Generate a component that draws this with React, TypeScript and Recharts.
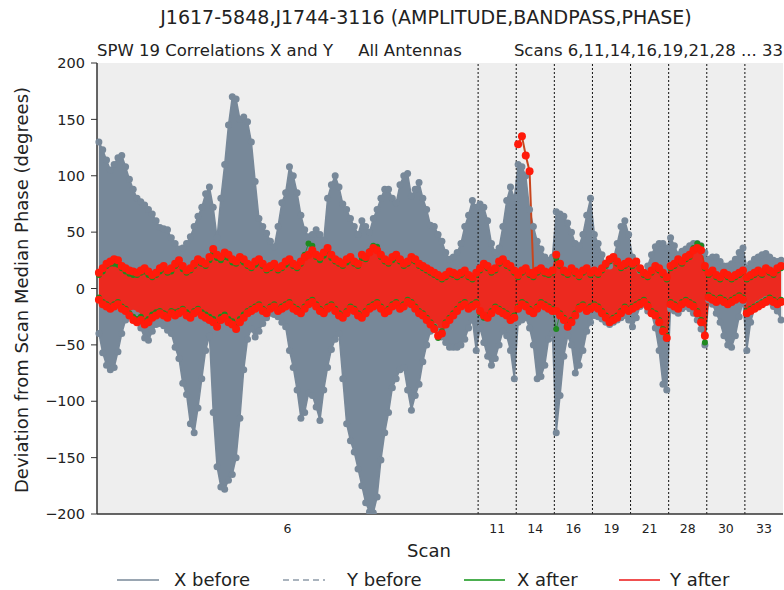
import React from 'react'
import {
  ComposedChart,
  Area,
  Line,
  XAxis,
  YAxis,
  CartesianGrid,
  ReferenceLine,
} from 'recharts'

const scans = ['6', '11', '14', '16', '19', '21', '28', '30', '33']
const scanSamples = [100, 10, 10, 10, 10, 10, 10, 10, 10]

// grey envelope of the "before" phases (all antennas, X and Y)
const beforeHi = [
  130, 123, 114, 105, 110, 116, 118, 108, 97, 88, 80, 77, 74, 70, 66, 60, 54, 53, 52, 45,
  40, 35, 36, 40, 46, 55, 64, 72, 84, 90, 72, 45, 80, 110, 145, 170, 168, 150, 152, 148,
  130, 95, 62, 55, 49, 42, 37, 55, 76, 85, 108, 100, 85, 65, 52, 46, 48, 52, 48, 43,
  80, 92, 100, 90, 75, 70, 62, 55, 48, 60, 55, 50, 62, 70, 80, 88, 88, 80, 76, 92,
  100, 102, 82, 88, 94, 80, 70, 56, 55, 48, 42, 32, 26, 28, 32, 40, 55, 65, 78, 72,
  75, 72, 60, 40, 32, 36, 55, 78, 90, 80,
  110, 108, 100, 70, 55, 42, 35, 28, 25, 28,
  68, 66, 64, 58, 50, 40, 38, 48, 65, 80,
  48, 40, 30, 20, 20, 26, 40, 55, 60, 48,
  28, 22, 16, 14, 20, 30, 37, 40, 40, 36,
  45, 38, 30, 33, 35, 38, 40, 40, 38, 32,
  26, 28, 28, 24, 20, 20, 22, 26, 32, 36,
  18, 22, 26, 28, 30, 31, 28, 25, 24, 25,
]
const beforeLo = [
  -40, -57, -68, -72, -70, -56, -40, -28, -24, -22, -24, -35, -44, -46, -38, -32, -31, -33, -37, -40,
  -52, -62, -84, -94, -120, -128, -106, -80, -55, -42, -110, -158, -176, -178, -170, -165, -150, -115, -72, -45,
  -36, -43, -38, -31, -26, -22, -23, -25, -30, -34, -55, -70, -90, -115, -110, -93, -95, -105, -117, -90,
  -70, -54, -45, -40, -80, -120, -135, -145, -160, -175, -190, -198, -199, -185, -152, -128, -110, -88, -80, -72,
  -70, -90, -108, -95, -85, -65, -50, -38, -34, -38, -43, -48, -52, -52, -52, -50, -45, -35, -28, -55,
  -35, -48, -60, -68, -62, -50, -38, -42, -55, -80,
  -30, -28, -26, -35, -50, -80, -78, -68, -45, -40,
  -128, -95, -60, -42, -50, -75, -68, -55, -38, -30,
  -24, -25, -27, -30, -32, -30, -28, -26, -24, -28,
  -34, -26, -16, -14, -20, -22, -35, -55, -85, -90,
  -18, -20, -22, -18, -16, -18, -22, -28, -36, -50,
  -10, -14, -22, -30, -42, -50, -52, -42, -25, -12,
  -55, -30, -18, -14, -12, -10, -12, -16, -20, -28,
]

// X after (green)
const xAfterHi = [
  12, 15, 20, 22, 22, 21, 18, 15, 13, 12, 12, 14, 15, 12, 10, 12, 15, 17, 14, 15,
  20, 22, 17, 14, 16, 20, 23, 22, 20, 25, 32, 27, 25, 28, 27, 23, 22, 25, 23, 20,
  18, 21, 23, 20, 16, 18, 20, 16, 18, 21, 23, 20, 18, 22, 30, 40, 38, 28, 25, 29,
  33, 27, 24, 22, 20, 23, 25, 22, 20, 27, 26, 33, 38, 37, 28, 24, 22, 25, 27, 24,
  20, 22, 25, 24, 20, 18, 16, 14, 12, 10, 8, 10, 13, 12, 10, 12, 14, 10, 8, 12,
  16, 20, 18, 14, 16, 22, 24, 20, 18, 14,
  10, 14, 16, 12, 10, 14, 16, 13, 12, 14,
  27, 20, 14, 12, 16, 13, 10, 14, 16, 12,
  14, 12, 16, 20, 24, 26, 22, 18, 20, 22,
  20, 22, 16, 12, 10, 14, 18, 16, 12, 8,
  18, 20, 24, 22, 26, 28, 36, 40, 38, 18,
  12, 14, 10, 8, 12, 10, 8, 10, 12, 14,
  8, 10, 12, 14, 12, 16, 14, 12, 16, 18,
]
const xAfterLo = [
  -8, -12, -14, -16, -14, -12, -16, -18, -22, -25, -27, -25, -29, -27, -23, -21, -20, -22, -23, -20,
  -21, -20, -18, -21, -23, -20, -18, -21, -23, -25, -27, -31, -25, -23, -27, -29, -33, -27, -23, -20,
  -18, -16, -14, -18, -20, -16, -14, -18, -16, -14, -12, -16, -18, -20, -16, -12, -10, -14, -18, -20,
  -16, -14, -18, -22, -24, -20, -16, -18, -22, -24, -20, -16, -14, -12, -16, -20, -18, -14, -12, -16,
  -14, -10, -12, -16, -20, -22, -26, -30, -34, -44, -38, -30, -26, -22, -18, -14, -12, -16, -14, -12,
  -22, -26, -24, -20, -16, -18, -20, -22, -26, -24,
  -16, -12, -14, -18, -20, -16, -12, -14, -16, -18,
  -36, -22, -26, -32, -28, -22, -16, -14, -18, -16,
  -14, -16, -20, -24, -28, -26, -24, -20, -16, -18,
  -16, -14, -12, -10, -14, -20, -22, -28, -36, -42,
  -12, -14, -16, -12, -10, -12, -14, -20, -28, -48,
  -6, -8, -10, -8, -10, -12, -10, -8, -6, -8,
  -20, -18, -16, -14, -12, -10, -8, -10, -12, -10,
]

// Y after (red)
const yAfterHi = [
  14, 18, 22, 24, 26, 25, 20, 18, 16, 15, 14, 16, 18, 15, 12, 14, 18, 20, 16, 18,
  22, 25, 20, 16, 18, 22, 26, 24, 22, 28, 35, 30, 28, 32, 30, 26, 24, 28, 26, 22,
  20, 24, 26, 22, 18, 20, 22, 18, 20, 24, 26, 22, 20, 24, 28, 30, 34, 30, 28, 32,
  36, 30, 26, 24, 22, 26, 28, 24, 22, 30, 28, 32, 36, 34, 30, 26, 24, 28, 30, 26,
  22, 24, 28, 26, 22, 20, 18, 16, 14, 12, 10, 12, 15, 14, 12, 14, 16, 12, 10, 14,
  18, 22, 20, 16, 18, 24, 26, 22, 20, 16,
  12, 16, 18, 14, 12, 16, 18, 15, 14, 16,
  30, 22, 16, 14, 18, 15, 12, 16, 18, 14,
  16, 14, 18, 22, 26, 28, 24, 20, 22, 24,
  22, 24, 18, 14, 12, 16, 20, 18, 14, 10,
  20, 22, 26, 24, 28, 30, 34, 36, 34, 20,
  14, 16, 12, 10, 14, 12, 10, 12, 14, 16,
  10, 12, 14, 16, 14, 18, 16, 14, 18, 20,
]
const yAfterLo = [
  -10, -14, -16, -18, -16, -14, -18, -20, -24, -28, -30, -28, -32, -30, -26, -24, -22, -24, -26, -22,
  -24, -22, -20, -24, -26, -22, -20, -24, -26, -28, -30, -34, -28, -26, -30, -32, -36, -30, -26, -22,
  -20, -18, -16, -20, -22, -18, -16, -20, -18, -16, -14, -18, -20, -22, -18, -14, -12, -16, -20, -22,
  -18, -16, -20, -24, -26, -22, -18, -20, -24, -26, -22, -18, -16, -14, -18, -22, -20, -16, -14, -18,
  -16, -12, -14, -18, -22, -24, -28, -32, -36, -42, -40, -32, -28, -24, -20, -16, -14, -18, -16, -14,
  -20, -24, -26, -22, -18, -20, -22, -24, -28, -26,
  -18, -14, -16, -20, -22, -18, -14, -16, -18, -20,
  -20, -24, -28, -34, -30, -24, -18, -16, -20, -18,
  -16, -18, -22, -26, -30, -28, -26, -22, -18, -20,
  -18, -16, -14, -12, -16, -22, -24, -30, -38, -44,
  -14, -16, -18, -14, -12, -14, -16, -22, -30, -42,
  -8, -10, -12, -10, -12, -14, -12, -10, -8, -10,
  -22, -20, -18, -16, -14, -12, -10, -12, -14, -12,
]

// Y after outlier at the start of scan 14
const spikeSample = [110, 111, 112, 113, 114]
const spikeValue = [128, 135, 118, 104, 14]

const yTicks = [-200, -150, -100, -50, 0, 50, 100, 150, 200]

const GREY = '#778899'
const RED = '#ff1a0a'
const GREEN = '#1f8a1f'
const FONT = '"DejaVu Sans", sans-serif'

const bounds: number[] = [0]
scanSamples.forEach((n) => bounds.push(bounds[bounds.length - 1] + n))
const total = bounds[bounds.length - 1]
const scanCenters = scans.map((_, i) => (bounds[i] + bounds[i + 1]) / 2)

const data = beforeHi.map((hi, i) => {
  const s = spikeSample.indexOf(i)
  return {
    t: i + 0.5,
    beforeRange: [beforeLo[i], hi],
    beforeHi: hi,
    beforeLo: beforeLo[i],
    xAfterHi: xAfterHi[i],
    xAfterLo: xAfterLo[i],
    yAfterRange: [yAfterLo[i], yAfterHi[i]],
    yAfterHi: yAfterHi[i],
    yAfterLo: yAfterLo[i],
    spike: s >= 0 ? spikeValue[s] : null,
  }
})

const fmtY = (v: number) => (v < 0 ? '\u2212' + Math.abs(v) : String(v))
const fmtX = (v: number) => {
  const i = scanCenters.indexOf(v)
  return i >= 0 ? scans[i] : ''
}

const dotOf = (color: string, r = 3.5) => ({ r, fill: color, stroke: 'none' })

export default function App() {
  return (
    <div style={{ position: 'absolute', left: 0, top: 0, width: 784, height: 590, background: '#fff' }}>
      <ComposedChart
        width={784}
        height={590}
        data={data}
        margin={{ top: 63, right: 1, left: 37, bottom: 46 }}
      >
        <CartesianGrid horizontal={false} vertical={false} fill="#eeeeee" />
        <XAxis
          dataKey="t"
          type="number"
          domain={[0, total]}
          ticks={scanCenters}
          tickFormatter={fmtX}
          interval={0}
          tickLine={false}
          tickSize={0}
          tickMargin={10}
          height={30}
          axisLine={{ stroke: '#333', strokeWidth: 1.5 }}
          tick={{ fill: '#222', fontSize: 12.5, fontFamily: FONT }}
        />
        <XAxis xAxisId="top" orientation="top" dataKey="t" type="number" domain={[0, total]} tick={false} tickLine={false} height={0} axisLine={{ stroke: '#333', strokeWidth: 1.5 }} />
        <YAxis
          domain={[-200, 200]}
          ticks={yTicks}
          tickFormatter={fmtY}
          interval={0}
          width={60}
          tickSize={6}
          tickMargin={6}
          allowDataOverflow
          axisLine={{ stroke: '#333', strokeWidth: 1.5 }}
          tickLine={{ stroke: '#333' }}
          tick={{ fill: '#222', fontSize: 14.5, fontFamily: FONT }}
        />
        <YAxis yAxisId="right" orientation="right" domain={[-200, 200]} tick={false} tickLine={false} width={0} axisLine={{ stroke: '#333', strokeWidth: 1.5 }} />

        <Area dataKey="beforeRange" type="linear" fill={GREY} fillOpacity={1} stroke="none" dot={false} activeDot={false} isAnimationActive={false} />
        <Line dataKey="beforeHi" name="X before" type="linear" stroke={GREY} strokeWidth={1.5} dot={dotOf(GREY)} activeDot={false} isAnimationActive={false} />
        <Line dataKey="beforeLo" name="Y before" type="linear" stroke={GREY} strokeWidth={1.5} dot={dotOf(GREY)} activeDot={false} isAnimationActive={false} />

        <Line dataKey="xAfterHi" name="X after" type="linear" stroke={GREEN} strokeWidth={0.8} dot={dotOf(GREEN, 3)} activeDot={false} isAnimationActive={false} />
        <Line dataKey="xAfterLo" name="X after" type="linear" stroke={GREEN} strokeWidth={0.8} dot={dotOf(GREEN, 3)} activeDot={false} isAnimationActive={false} />

        <Area dataKey="yAfterRange" type="linear" fill={RED} fillOpacity={0.86} stroke="none" dot={false} activeDot={false} isAnimationActive={false} />
        <Line dataKey="yAfterHi" name="Y after" type="linear" stroke={RED} strokeWidth={1.2} dot={dotOf(RED, 4)} activeDot={false} isAnimationActive={false} />
        <Line dataKey="yAfterLo" name="Y after" type="linear" stroke={RED} strokeWidth={1.2} dot={dotOf(RED, 4)} activeDot={false} isAnimationActive={false} />
        <Line dataKey="spike" name="Y after" type="linear" stroke="#c8461e" strokeWidth={2} connectNulls={false} dot={dotOf(RED, 4)} activeDot={false} isAnimationActive={false} />

        {bounds.slice(1, -1).map((b) => (
          <ReferenceLine key={b} x={b} stroke="#111" strokeDasharray="2 2" strokeWidth={1} />
        ))}
      </ComposedChart>

      <svg width={784} height={590} style={{ position: 'absolute', left: 0, top: 0, pointerEvents: 'none' }} fontFamily={FONT}>
        <text x={426} y={24} textAnchor="middle" fontSize={19} fill="#222">
          J1617-5848,J1744-3116 (AMPLITUDE,BANDPASS,PHASE)
        </text>
        <text x={97} y={56} fontSize={16.5} fill="#222">SPW 19 Correlations X and Y</text>
        <text x={410} y={56} textAnchor="middle" fontSize={16.5} fill="#222">All Antennas</text>
        <text x={783} y={56} textAnchor="end" fontSize={16.5} fill="#222">Scans 6,11,14,16,19,21,28 ... 33</text>
        <text x={429} y={557} textAnchor="middle" fontSize={18} fill="#222">Scan</text>
        <text transform="translate(28,290) rotate(-90)" textAnchor="middle" fontSize={18} fill="#222">
          Deviation from Scan Median Phase (degrees)
        </text>

        <line x1={117} x2={159} y1={580} y2={580} stroke="#9aa6b2" strokeWidth={2} />
        <text x={174} y={586} fontSize={18} fill="#222">X before</text>
        <line x1={283} x2={325} y1={580} y2={580} stroke="#aab4be" strokeWidth={2} strokeDasharray="6 4" />
        <text x={347} y={586} fontSize={18} fill="#222">Y before</text>
        <line x1={464} x2={505} y1={580} y2={580} stroke="#4caf50" strokeWidth={2} />
        <text x={517} y={586} fontSize={18} fill="#222">X after</text>
        <line x1={619} x2={660} y1={580} y2={580} stroke="#f05050" strokeWidth={2} />
        <text x={670} y={586} fontSize={18} fill="#222">Y after</text>
      </svg>
    </div>
  )
}
